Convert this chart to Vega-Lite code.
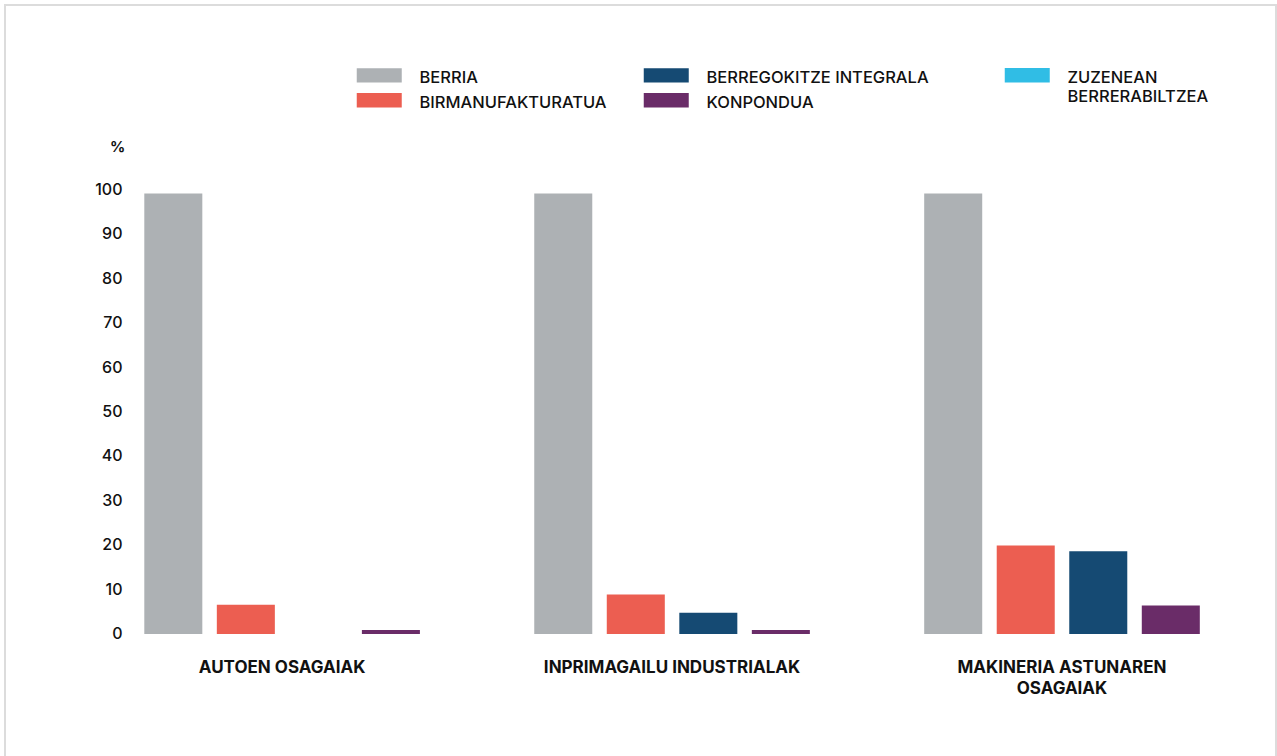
{
  "$schema": "https://vega.github.io/schema/vega-lite/v6.json",
  "width": 1271,
  "height": 760,
  "autosize": {"type": "none"},
  "padding": {"left": 5, "top": 5, "right": 1, "bottom": 0},
  "background": "white",
  "config": {
    "view": {"stroke": "#dcdcdc", "strokeWidth": 2},
    "font": "Inter",
    "axis": {"grid": false, "domain": false, "ticks": false},
    "legend": {
      "title": null,
      "orient": "none",
      "symbolType": "M-4,-1.28H4V1.28H-4Z",
      "symbolSize": 126.5625,
      "symbolStrokeWidth": 0,
      "symbolOpacity": 1,
      "labelOffset": 32,
      "labelFontSize": 16.5,
      "labelFontWeight": 500,
      "labelColor": "#111111",
      "labelLimit": 400,
      "labelBaseline": "top"
    }
  },
  "data": {
    "values": [
      {"group": "AUTOEN OSAGAIAK", "type": "BERRIA", "value": 99},
      {"group": "AUTOEN OSAGAIAK", "type": "BIRMANUFAKTURATUA", "value": 6.6},
      {"group": "AUTOEN OSAGAIAK", "type": "BERREGOKITZE INTEGRALA", "value": 0},
      {"group": "AUTOEN OSAGAIAK", "type": "KONPONDUA", "value": 0.9},
      {"group": "AUTOEN OSAGAIAK", "type": "ZUZENEAN BERRERABILTZEA", "value": 0},
      {"group": "INPRIMAGAILU INDUSTRIALAK", "type": "BERRIA", "value": 99},
      {"group": "INPRIMAGAILU INDUSTRIALAK", "type": "BIRMANUFAKTURATUA", "value": 8.9},
      {"group": "INPRIMAGAILU INDUSTRIALAK", "type": "BERREGOKITZE INTEGRALA", "value": 4.8},
      {"group": "INPRIMAGAILU INDUSTRIALAK", "type": "KONPONDUA", "value": 0.9},
      {"group": "INPRIMAGAILU INDUSTRIALAK", "type": "ZUZENEAN BERRERABILTZEA", "value": 0},
      {"group": "MAKINERIA ASTUNAREN OSAGAIAK", "type": "BERRIA", "value": 99},
      {"group": "MAKINERIA ASTUNAREN OSAGAIAK", "type": "BIRMANUFAKTURATUA", "value": 19.9},
      {"group": "MAKINERIA ASTUNAREN OSAGAIAK", "type": "BERREGOKITZE INTEGRALA", "value": 18.6},
      {"group": "MAKINERIA ASTUNAREN OSAGAIAK", "type": "KONPONDUA", "value": 6.4},
      {"group": "MAKINERIA ASTUNAREN OSAGAIAK", "type": "ZUZENEAN BERRERABILTZEA", "value": 0}
    ]
  },
  "encoding": {
    "x": {
      "field": "group",
      "type": "nominal",
      "sort": null,
      "scale": {"paddingInner": 0.256, "paddingOuter": 0.2577, "align": 0.657},
      "axis": {
        "title": null,
        "offset": -131,
        "labelAngle": 0,
        "labelFontSize": 17,
        "labelFontWeight": "bold",
        "labelColor": "#111111",
        "labelPadding": 25,
        "labelLineHeight": 21,
        "labelLimit": 400,
        "labelExpr": "datum.label == 'MAKINERIA ASTUNAREN OSAGAIAK' ? ['MAKINERIA ASTUNAREN', 'OSAGAIAK'] : datum.label"
      }
    },
    "y": {
      "field": "value",
      "type": "quantitative",
      "scale": {"domain": [-29.44, 141.35], "nice": false, "zero": false},
      "axis": {
        "offset": -120,
        "values": [0, 10, 20, 30, 40, 50, 60, 70, 80, 90, 100],
        "labelFontSize": 16,
        "labelFontWeight": 500,
        "labelColor": "#111111",
        "labelPadding": 3,
        "title": "%",
        "titleAngle": 0,
        "titleX": -8,
        "titleY": 141,
        "titleAlign": "center",
        "titleBaseline": "middle",
        "titleFontSize": 15,
        "titleFontWeight": "bold",
        "titleColor": "#111111"
      }
    }
  },
  "layer": [
    {
      "transform": [{"filter": "datum.type != 'ZUZENEAN BERRERABILTZEA'"}],
      "mark": {"type": "bar"},
      "encoding": {
        "xOffset": {
          "field": "type",
          "type": "nominal",
          "scale": {
            "domain": ["BERRIA", "BIRMANUFAKTURATUA", "BERREGOKITZE INTEGRALA", "KONPONDUA"],
            "paddingInner": 0.2,
            "paddingOuter": 0.1
          }
        },
        "color": {
          "field": "type",
          "type": "nominal",
          "scale": {
            "domain": ["BERRIA", "BIRMANUFAKTURATUA", "BERREGOKITZE INTEGRALA", "KONPONDUA"],
            "range": ["#adb1b4", "#ec5e51", "#154a73", "#6a2c68"]
          },
          "legend": {
            "legendX": 366,
            "legendY": 62,
            "columns": 2,
            "columnPadding": 36,
            "rowPadding": 5,
            "encode": {"labels": {"update": {"dy": {"value": -5}}}}
          }
        }
      }
    },
    {
      "transform": [{"filter": "datum.type == 'ZUZENEAN BERRERABILTZEA'"}],
      "mark": {"type": "bar"},
      "encoding": {
        "color": {
          "field": "type",
          "type": "nominal",
          "scale": {"domain": ["ZUZENEAN BERRERABILTZEA"], "range": ["#30bde5"]},
          "legend": {
            "legendX": 1014,
            "legendY": 62,
            "labelExpr": "['ZUZENEAN', 'BERRERABILTZEA']",
            "encode": {"labels": {"update": {"dy": {"value": -5}, "lineHeight": {"value": 19}}}}
          }
        }
      }
    }
  ],
  "resolve": {"scale": {"color": "independent"}, "legend": {"color": "independent"}}
}
